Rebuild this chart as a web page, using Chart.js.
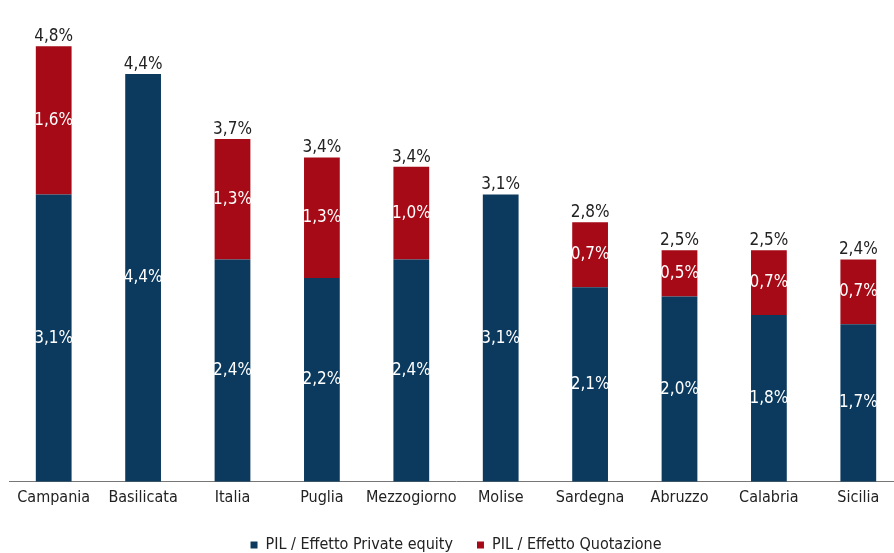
<!DOCTYPE html>
<html>
<head>
<meta charset="utf-8">
<script src="https://cdn.jsdelivr.net/npm/chart.js@4"></script>
<style>
  html, body { margin: 0; padding: 0; background: #fff; overflow: hidden; }
  #wrap { width: 903px; height: 553px; position: relative; }
</style>
</head>
<body>
<div id="wrap"><canvas id="myChart"></canvas></div>
<script>
const regioni = ["Campania", "Basilicata", "Italia", "Puglia", "Mezzogiorno", "Molise", "Sardegna", "Abruzzo", "Calabria", "Sicilia"];
const privateEquity = [3.1, 4.4, 2.4, 2.2, 2.4, 3.1, 2.1, 2.0, 1.8, 1.7];
const quotazione = [1.6, null, 1.3, 1.3, 1.0, null, 0.7, 0.5, 0.7, 0.7];
const totali = ["4,8%", "4,4%", "3,7%", "3,4%", "3,4%", "3,1%", "2,8%", "2,5%", "2,5%", "2,4%"];

const FONT = "'Liberation Sans Narrow', 'DejaVu Sans Condensed', sans-serif";
const fmt = v => v.toFixed(1).replace('.', ',') + '%';

// etichette dentro i segmenti e totale sopra la barra
const etichette = {
    id: 'etichette',
    afterDatasetsDraw(chart) {
        const ctx = chart.ctx;
        ctx.save();
        ctx.textAlign = 'center';
        ctx.font = '17px ' + FONT;
        chart.data.datasets.forEach((ds, di) => {
            const meta = chart.getDatasetMeta(di);
            meta.data.forEach((bar, i) => {
                const v = ds.data[i];
                if (v == null) return;
                ctx.fillStyle = '#fff';
                ctx.textBaseline = 'middle';
                ctx.fillText(fmt(v), bar.x, (bar.y + bar.base) / 2);
            });
        });
        const m0 = chart.getDatasetMeta(0), m1 = chart.getDatasetMeta(1);
        totali.forEach((t, i) => {
            const top = quotazione[i] != null ? m1.data[i].y : m0.data[i].y;
            ctx.fillStyle = '#222';
            ctx.textBaseline = 'bottom';
            ctx.fillText(t, m0.data[i].x, top - 1);
        });
        ctx.restore();
    }
};

const ctx = document.getElementById('myChart');
new Chart(ctx, {
    type: 'bar',
    data: {
        labels: regioni,
        datasets: [{
            label: 'PIL / Effetto Private equity',
            data: privateEquity,
            backgroundColor: '#0b3a5e',
            barPercentage: 0.8,
            categoryPercentage: 0.5
        }, {
            label: 'PIL / Effetto Quotazione',
            data: quotazione,
            backgroundColor: '#a50a16',
            barPercentage: 0.8,
            categoryPercentage: 0.5
        }]
    },
    options: {
        responsive: true,
        maintainAspectRatio: false,
        animation: false,
        layout: { padding: { top: 0, left: 9, right: 0, bottom: -10 } },
        plugins: {
            legend: {
                position: 'bottom',
                labels: {
                    boxWidth: 7,
                    boxHeight: 7,
                    color: '#222',
                    padding: 24,
                    font: { family: FONT, size: 16 }
                }
            },
            tooltip: { enabled: false }
        },
        scales: {
            x: {
                stacked: true,
                grid: { display: false, drawTicks: false },
                border: { color: '#777', width: 1 },
                ticks: {
                    color: '#222',
                    padding: 6,
                    maxRotation: 0,
                    minRotation: 0,
                    autoSkip: false,
                    font: { family: FONT, size: 16 }
                }
            },
            y: {
                stacked: true,
                display: false,
                min: 0,
                max: 5.2
            }
        }
    },
    plugins: [etichette]
});
</script>
</body>
</html>
